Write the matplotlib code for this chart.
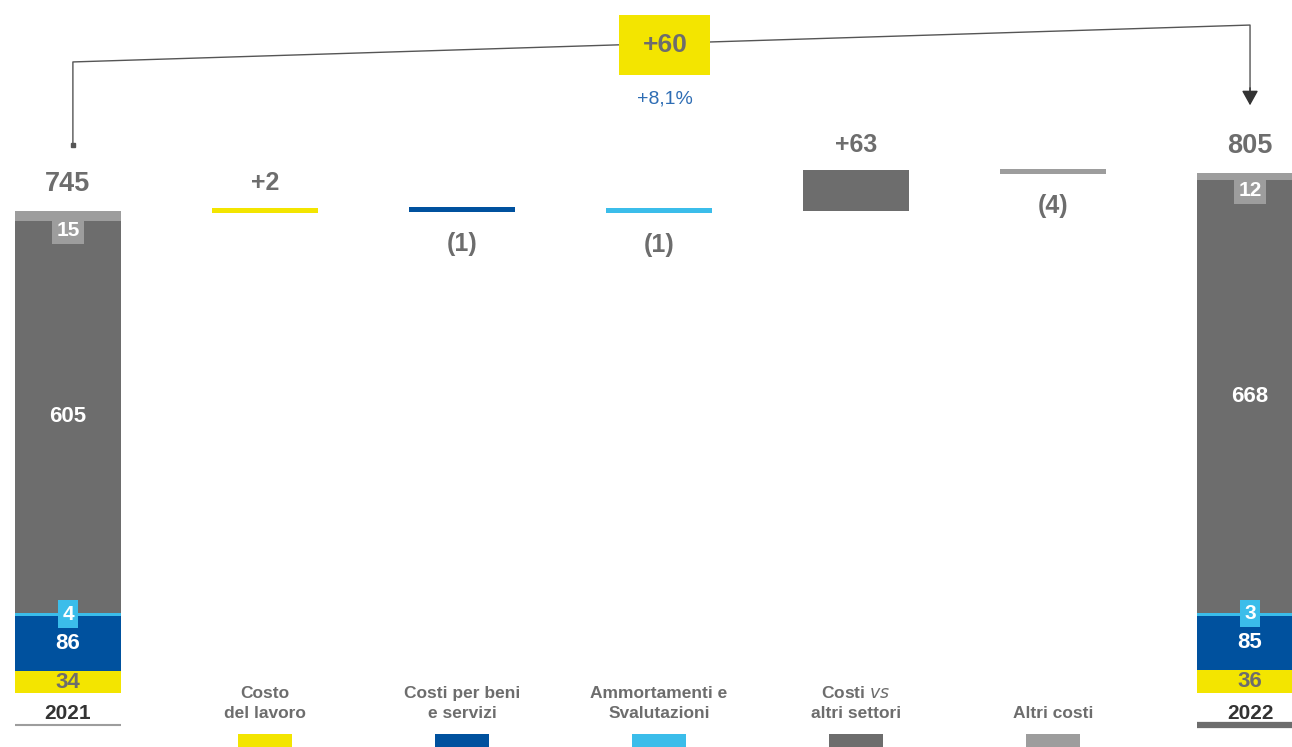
import matplotlib.pyplot as plt
from matplotlib.patches import Rectangle

plt.rcParams['font.family'] = ['Liberation Sans', 'DejaVu Sans']

# Data
years = ['2021', '2022']
components = ['Costo\ndel lavoro', 'Costi per beni\ne servizi', 'Ammortamenti e\nSvalutazioni',
              'Costi $\\bf{\\it{vs}}$\naltri settori', 'Altri costi']
values_2021 = [34, 86, 4, 605, 15]
values_2022 = [36, 85, 3, 668, 12]
total_2021 = 745
total_2022 = 805
deltas = [2, -1, -1, 63, -4]
delta_labels = ['+2', '(1)', '(1)', '+63', '(4)']
total_change = '+60'
pct_change = '+8,1%'

colors = ['#f3e500', '#00519e', '#3bbdea', '#6d6d6d', '#9d9d9d']
seg_text = ['#6d6d6d', 'white', 'white', 'white', 'white']
gray = '#6d6d6d'

fig = plt.figure(figsize=(12.92, 7.47), dpi=100)
ax = fig.add_axes([0, 0, 1, 1])
ax.set_xlim(-0.345, 6.213)
ax.set_ylim(-83.4, 1070.7)
ax.axis('off')

w = 0.54
xs = list(range(len(components) + 2))


def stacked(x, vals, total):
    bottom = 0
    for i, v in enumerate(vals):
        ax.bar(x, v, w, bottom=bottom, color=colors[i], zorder=2)
        mid = bottom + v / 2
        if i == 2:
            ax.bar(x, 7, w, bottom=mid - 3.5, color=colors[i], zorder=2)
            ax.annotate(str(v), (x, mid), ha='center', va='center', color='white',
                        fontsize=15, fontweight='bold', zorder=4,
                        bbox=dict(boxstyle='square,pad=0.2', fc=colors[i], ec='none'))
        elif i == len(vals) - 1:
            ax.annotate(str(v), (x, mid), xytext=(0, -14), textcoords='offset pixels',
                        ha='center', va='center', color='white', fontsize=15,
                        fontweight='bold', zorder=4,
                        bbox=dict(boxstyle='square,pad=0.2', fc=colors[i], ec='none'))
        else:
            ax.text(x, mid, str(v), ha='center', va='center', color=seg_text[i],
                    fontsize=16, fontweight='bold', zorder=4)
        bottom += v
    ax.annotate(str(total), (x, bottom), xytext=(0, 27), textcoords='offset pixels',
                ha='center', va='center', color=gray, fontsize=19.5, fontweight='bold')


stacked(xs[0], values_2021, total_2021)
stacked(xs[-1], values_2022, total_2022)

# floating delta bars
cum = total_2021
min_h = 8
for i, d in enumerate(deltas):
    x = xs[i + 1]
    lo, hi = min(cum, cum + d), max(cum, cum + d)
    if hi - lo < min_h:
        m = (lo + hi) / 2
        lo, hi = m - min_h / 2, m + min_h / 2
    ax.bar(x, hi - lo, w, bottom=lo, color=colors[i], zorder=2)
    if d >= 0:
        ax.annotate(delta_labels[i], (x, hi), xytext=(0, 25), textcoords='offset pixels',
                    ha='center', va='center', color=gray, fontsize=18, fontweight='bold')
    else:
        ax.annotate(delta_labels[i], (x, lo), xytext=(0, -32), textcoords='offset pixels',
                    ha='center', va='center', color=gray, fontsize=18, fontweight='bold')
    cum += d

# category labels and swatches
for i, name in enumerate(components):
    x = xs[i + 1]
    ax.text(x, -44, name, ha='center', va='bottom', color=gray, fontsize=12.5,
            fontweight='bold', linespacing=1.45)
    ax.add_patch(Rectangle((x - 0.135, -83.4), 0.27, 20.5, color=colors[i], lw=0))

# year labels
for x, y, lw, c in [(xs[0], years[0], 1.5, '#9d9d9d'), (xs[-1], years[1], 4.5, gray)]:
    ax.text(x, -31, y, ha='center', va='center', color='#333333', fontsize=15, fontweight='bold')
    ax.plot([x - w / 2, x + w / 2], [-49, -49], color=c, lw=lw, solid_capstyle='butt')

# top bracket
lx = xs[0] + 0.025
rx = xs[-1]
ax.plot([lx, lx, rx, rx], [847, 975, 1032, 925], color='#555555', lw=1, zorder=1)
ax.plot([lx], [847], marker='s', ms=2.5, color='#555555')
ax.annotate('', xy=(rx, 908), xytext=(rx, 935),
            arrowprops=dict(arrowstyle='-|>,head_length=0.9,head_width=0.5',
                            color='#333333', lw=1, shrinkA=0, shrinkB=0))
bx = 3.03
ax.add_patch(Rectangle((bx - 0.231, 1001 - 46.4), 0.462, 92.8, color='#f3e500', lw=0, zorder=3))
ax.text(bx, 1001, total_change, ha='center', va='center', color=gray, fontsize=19,
        fontweight='bold', zorder=4)
ax.text(bx, 917, pct_change, ha='center', va='center', color='#2e6db4', fontsize=14)

fig.savefig('out.png', dpi=100)
